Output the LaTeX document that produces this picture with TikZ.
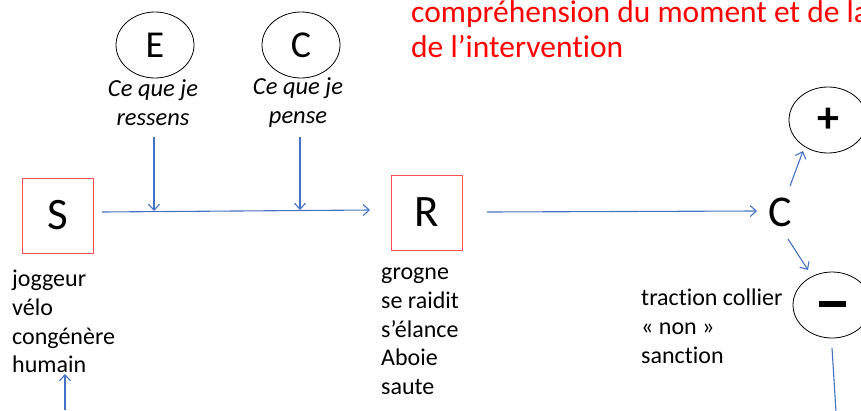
\documentclass[tikz,border=0pt]{standalone}
\usepackage{fontspec}
\setmainfont{Carlito}[Ligatures={NoCommon}]
\usetikzlibrary{arrows.meta,shapes.geometric}
\definecolor{arrowblue}{RGB}{68,114,196}
\definecolor{boxred}{RGB}{255,80,80}
\tikzset{
  conn/.style={draw=arrowblue, line width=1.1pt, -{Straight Barb[length=6pt,width=11pt]}},
  plainconn/.style={draw=arrowblue, line width=1.1pt},
  sqbox/.style={draw=boxred, line width=1pt, minimum width=71pt, minimum height=75pt, font=\fontsize{45}{48}\selectfont, inner sep=0pt},
  oval/.style={draw=black, ellipse, line width=0.8pt, minimum width=78pt, minimum height=66pt, inner sep=0pt},
  biglet/.style={font=\fontsize{38}{42}\selectfont},
  listtxt/.style={align=left, anchor=north west, inner sep=0pt, font=\fontsize{24}{28.7}\selectfont},
  ittxt/.style={align=center, inner sep=0pt, font=\itshape\fontsize{24.5}{29}\selectfont},
}
\begin{document}
\begin{tikzpicture}[x=1pt,y=-1pt]
\useasboundingbox (0,0) rectangle (861,410);
\clip (0,0) rectangle (861,410);
% red heading
\node[anchor=north west, inner sep=0pt, text=red, align=left, font=\fontsize{31.5}{35}\selectfont] (head) at (411,0) {compréhension du moment et de la\\de l’intervention};
% E and C ovals
\node[oval, biglet] (E) at (155,45) {E};
\node[oval, biglet] (Ctop) at (301,45) {C};
\node[ittxt] (etxt) at (153,103) {Ce que je\\ressens};
\node[ittxt] (ctxt) at (298,103) {Ce que je\\pense};
% boxes
\node[sqbox] (S) at (57.5,215.5) {S};
\node[sqbox] (R) at (427,212.5) {R};
% lists
\node[listtxt] (slist) at (12,270) {joggeur\\vélo\\congénère\\humain};
\node[listtxt] (rlist) at (381,268) {grogne\\se raidit\\s’élance\\Aboie\\saute};
% C right
\node[inner sep=0pt, font=\fontsize{44}{48}\selectfont] (Cr) at (780,212) {C};
\node[oval, font=\bfseries\fontsize{44}{48}\selectfont] (plus) at (828,120) {+};
\node[oval] (minus) at (832,305) {\raisebox{2pt}{\rule{27pt}{6pt}}};
\node[listtxt] (mlist) at (641,289) {traction collier\\« non »\\sanction};
% coordinates
\coordinate (ea) at (154,137);
\coordinate (eb) at (154,211);
\coordinate (ca) at (300,137);
\coordinate (cb) at (300,210);
\coordinate (sa) at (102,212);
\coordinate (sb) at (370,210);
\coordinate (ua) at (65,410);
\coordinate (ub) at (65,374);
\coordinate (ra) at (487,212);
\coordinate (rb) at (757,211);
\coordinate (pa) at (790,186);
\coordinate (pb) at (803,151);
\coordinate (ma) at (788,239);
\coordinate (mb) at (808,270);
\coordinate (da) at (832,348);
\coordinate (db) at (836,412);
% connectors
\draw[conn] (sa) -- (sb);
\draw[conn] (ea) -- (eb);
\draw[conn] (ca) -- (cb);
\draw[conn] (ua) -- (ub);
\draw[conn] (ra) -- (rb);
\draw[conn] (pa) -- (pb);
\draw[conn] (ma) -- (mb);
\draw[plainconn] (da) -- (db);
\end{tikzpicture}
\end{document}
